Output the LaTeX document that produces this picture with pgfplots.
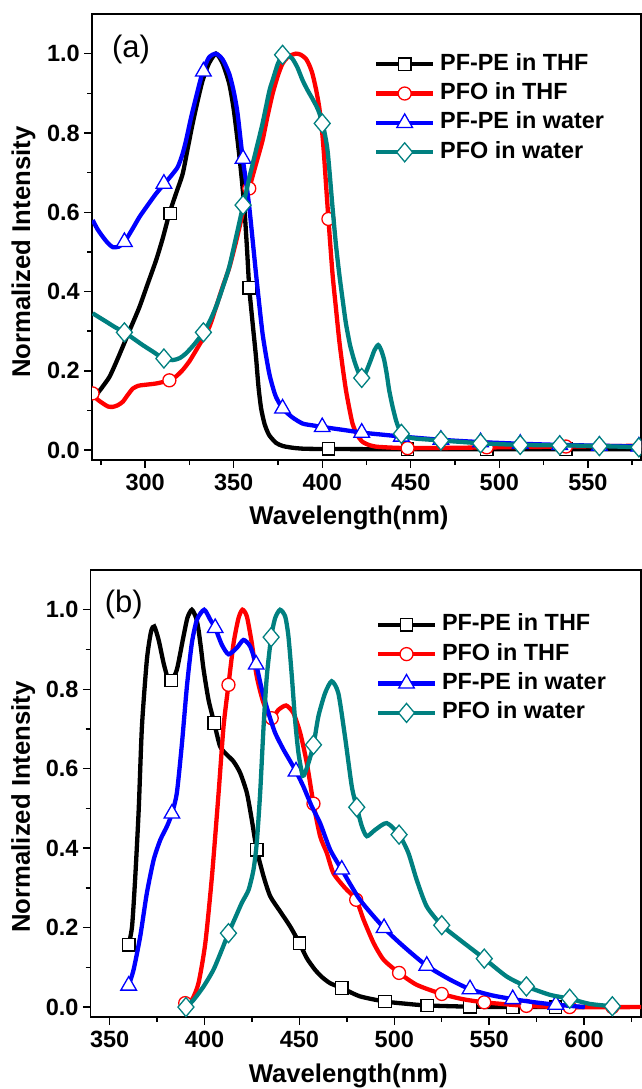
\documentclass[border=0pt]{standalone}
\usepackage{fontspec}
\setmainfont{Liberation Sans}
\usepackage{pgfplots}
\pgfplotsset{compat=1.18}
\definecolor{cteal}{RGB}{0,128,128}
\definecolor{cred}{RGB}{255,0,0}
\definecolor{cblue}{RGB}{0,0,255}
\pgfplotsset{
  base/.style={
    scale only axis,
    clip marker paths=true,
    axis line style={line width=1.5pt},
    every tick/.style={line width=1.4pt, black},
    tick align=outside,
    tick pos=left,
    major tick length=7.7pt,
    minor tick length=5pt,
    ymin=-0.025, ymax=1.1,
    ytick={0,0.2,0.4,0.6,0.8,1.0},
    minor ytick={0.1,0.3,0.5,0.7,0.9},
    yticklabel style={/pgf/number format/fixed,/pgf/number format/fixed zerofill,/pgf/number format/precision=1, xshift=-1pt},
    xticklabel style={yshift=-2.5pt},
    /pgf/number format/assume math mode=true,
    tick label style={font=\fontsize{23.5}{28}\selectfont\bfseries},
    label style={font=\fontsize{25.7}{30}\selectfont\bfseries},
    xlabel={Wavelength(nm)},
    ylabel={Normalized Intensity},
    xlabel style={at={(axis description cs:0.468,-0.1457)}, anchor=base},
    legend cell align=left,
    legend style={draw=none, fill=none, inner sep=0pt, outer sep=0pt, row sep=0pt, column sep=2pt,
        font=\fontsize{23.4}{28}\selectfont\bfseries,
        nodes={inner xsep=3pt, inner ysep=3.7pt, text height=17pt, text depth=5pt}},
  },
  crv/.style={line width=4.3pt, smooth, tension=0.4, forget plot},
  mk/.style={line width=4.3pt, only marks,
     legend image code/.code={\draw[mark repeat=2,mark phase=2,##1,sharp plot] plot coordinates {(0pt,0pt) (28.35pt,0pt) (56.7pt,0pt)};}},
  msq/.style={mark=square*, mark size=6.2pt, mark options={line width=1.3pt, fill=white, solid}},
  mci/.style={mark=*, mark size=6.5pt, mark options={line width=1.3pt, fill=white, solid}},
  mtr/.style={mark=triangle*, mark size=9pt, mark options={line width=1.3pt, fill=white, solid}},
  mdi/.style={mark=diamond*, mark size=9.5pt, mark options={line width=1.3pt, fill=white, solid, xscale=1.12}},
}
\begin{document}
\begin{tikzpicture}[x=1pt,y=1pt]
\useasboundingbox (0,0) rectangle (642,-1089);
% ---------------- panel (a) ----------------
\begin{axis}[base, at={(92pt,-14pt)}, anchor=north west, width=549pt, height=446pt,
  xmin=270, xmax=580, xtick={300,350,400,450,500,550}, minor xtick={275,325,375,425,475,525,575},
  ylabel style={at={(axis description cs:-0.1129,0.466)}, anchor=base},
  legend style={at={(0.514,0.9206)}, anchor=north west}]
% PF-PE in THF
\addplot[crv, black] coordinates {(270.5,0.13) (272.4,0.139) (276,0.16) (279.9,0.185) (283.5,0.22) (287.4,0.261) (292,0.31) (296.8,0.361) (301.5,0.42) (306.2,0.479) (310,0.535) (313.7,0.597) (317.5,0.648) (321.2,0.697) (324,0.76) (326.8,0.823) (329.6,0.88) (332.5,0.933) (336,0.975) (340,1.0) (343.8,0.975) (347.5,0.924) (350,0.86) (352.2,0.781) (354.2,0.70) (356,0.613) (357.5,0.51) (358.8,0.409) (360.7,0.32) (362.6,0.235) (364,0.16) (365.5,0.105) (367.5,0.065) (370,0.038) (374,0.018) (378,0.01) (385,0.005) (395,0.003) (450,0.002) (500,0.002) (580,0.002)};
\addplot[mk, msq, black] coordinates {(314.1,0.597) (358.8,0.409) (403.5,0.003) (448.2,0.002) (492.9,0.002) (537.6,0.002)};
\addlegendentry{PF-PE in THF}
% PFO in THF
\addplot[crv, cred] coordinates {(270.4,0.143) (273,0.128) (276.1,0.118) (279,0.11) (281.7,0.109) (284.5,0.113) (287.4,0.122) (290,0.138) (293,0.155) (296,0.162) (298.6,0.164) (306.2,0.168) (313.7,0.176) (317.5,0.186) (321.2,0.202) (325,0.224) (328.8,0.252) (332.5,0.28) (336.3,0.311) (340,0.36) (343.8,0.412) (347.5,0.46) (351.3,0.525) (355,0.595) (358.8,0.66) (362.5,0.72) (366.3,0.781) (369,0.84) (372,0.899) (375,0.945) (377.6,0.975) (381,0.993) (385.2,1.0) (388,0.997) (390.8,0.987) (392.8,0.97) (394.5,0.949) (396.5,0.91) (398.3,0.865) (400,0.80) (401.1,0.739) (402.3,0.66) (403.5,0.583) (405.8,0.445) (407.7,0.36) (409.6,0.277) (411.5,0.21) (413.4,0.151) (415.3,0.105) (417.1,0.067) (419.5,0.04) (422.7,0.021) (427,0.012) (432.1,0.008) (450,0.005) (500,0.007) (540,0.009) (580,0.011)};
\addplot[mk, mci, cred] coordinates {(270.3,0.143) (313.7,0.176) (358.8,0.66) (403.5,0.583) (448.2,0.005) (492.9,0.007) (537.6,0.009)};
\addlegendentry{PFO in THF}
% PF-PE in water
\addplot[crv, cblue] coordinates {(270.4,0.58) (273,0.558) (276.1,0.538) (279,0.522) (281.7,0.512) (285,0.513) (288.3,0.525) (292.5,0.555) (296.8,0.588) (301.5,0.618) (306.2,0.647) (310.9,0.672) (314.7,0.692) (318.4,0.714) (321,0.745) (323.1,0.781) (326,0.84) (328.8,0.891) (332.5,0.954) (336,0.99) (340,1.0) (343.8,0.985) (347.5,0.949) (350,0.905) (352.2,0.849) (355,0.739) (356.9,0.68) (358.8,0.613) (360.7,0.53) (362.6,0.445) (364.5,0.365) (366.3,0.294) (368.2,0.24) (370.1,0.193) (372,0.16) (373.9,0.134) (377.6,0.105) (383,0.083) (388.9,0.067) (395,0.062) (400.7,0.058) (411.7,0.051) (422.7,0.044) (433.8,0.039) (445.3,0.034) (467,0.026) (490,0.02) (512,0.016) (535,0.013) (557.6,0.011) (580,0.009)};
\addplot[mk, mtr, cblue] coordinates {(288.3,0.525) (310.6,0.672) (332.9,0.955) (355.3,0.735) (377.6,0.105) (400,0.058) (422.3,0.044) (444.7,0.034) (467,0.026) (489.4,0.02) (511.8,0.016) (534.1,0.013) (556.5,0.011) (578.8,0.009)};
\addlegendentry{PF-PE in water}
% PFO in water
\addplot[crv, cteal] coordinates {(270.4,0.345) (274,0.335) (278,0.324) (283,0.31) (288.3,0.297) (293.5,0.281) (298.6,0.265) (304.5,0.248) (310.3,0.231) (315.6,0.227) (319.5,0.232) (323.1,0.244) (328,0.268) (332.9,0.297) (336.5,0.325) (340,0.361) (343.8,0.41) (347.5,0.462) (351.5,0.54) (355.4,0.618) (359,0.69) (362.6,0.756) (366.3,0.824) (370.1,0.905) (372,0.933) (375,0.975) (377.8,0.997) (380.5,0.996) (383.2,0.987) (386,0.965) (388.9,0.933) (391.7,0.908) (394.5,0.886) (397.5,0.86) (400.2,0.824) (403,0.756) (405.8,0.613) (407.7,0.52) (409.6,0.445) (411.5,0.38) (413.4,0.319) (415.7,0.265) (418,0.227) (420.3,0.198) (422.7,0.182) (425,0.2) (427.4,0.227) (429.5,0.252) (431.6,0.265) (433.3,0.252) (435,0.227) (436.5,0.19) (437.8,0.151) (439.7,0.11) (441.6,0.076) (443.5,0.052) (445.3,0.04) (449,0.032) (452.8,0.029) (458.5,0.027) (467.8,0.024) (490.3,0.017) (512.4,0.013) (535,0.012) (557.6,0.01) (580,0.007)};
\addplot[mk, mdi, cteal] coordinates {(288.3,0.297) (310.6,0.231) (332.9,0.297) (355.3,0.618) (377.6,0.997) (400,0.824) (422.3,0.182) (444.7,0.041) (467,0.024) (489.4,0.017) (511.8,0.013) (534.1,0.012) (556.5,0.01) (578.8,0.007)};
\addlegendentry{PFO in water}
\node[font=\fontsize{31}{36}\selectfont] at (axis description cs:0.071,0.9215) {(a)};
\end{axis}
% ---------------- panel (b) ----------------
\begin{axis}[base, at={(90.7pt,-570pt)}, anchor=north west, width=550.3pt, height=447pt,
  xmin=340, xmax=630, xtick={350,400,450,500,550,600}, minor xtick={375,425,475,525,575,625},
  ylabel style={at={(axis description cs:-0.1103,0.47)}, anchor=base},
  legend style={at={(0.5185,0.9105)}, anchor=north west}]
% PF-PE in THF
\addplot[crv, black] coordinates {(360,0.157) (361.8,0.203) (363.5,0.329) (365.3,0.497) (367,0.706) (369.6,0.874) (371.8,0.945) (373.5,0.958) (375.8,0.924) (378.4,0.866) (380.5,0.83) (382.5,0.822) (385.4,0.849) (388.9,0.933) (391,0.98) (393.3,1.0) (395.5,0.98) (396.8,0.95) (398.2,0.9) (399.5,0.849) (402.1,0.773) (405.1,0.715) (408.2,0.656) (411.8,0.635) (415.3,0.618) (418.8,0.589) (422.3,0.539) (424.9,0.471) (427.5,0.396) (431.1,0.329) (434.6,0.279) (439.8,0.241) (445.1,0.203) (450,0.161) (453.9,0.123) (458.2,0.094) (462,0.075) (466.2,0.060) (472.3,0.048) (481.9,0.027) (495.1,0.014) (507,0.008) (517.4,0.004) (539.9,0.001) (562.7,0.0) (585.1,0.0) (600,0.0)};
\addplot[mk, msq, black] coordinates {(360,0.157) (382.5,0.822) (405.1,0.715) (427.5,0.396) (450,0.161) (472.3,0.048) (495.1,0.014) (517.4,0.004) (539.9,0.001) (562.5,0) (585,0)};
\addlegendentry{PF-PE in THF}
% PFO in THF
\addplot[crv, cred] coordinates {(389.8,0.01) (393.3,0.018) (396.8,0.06) (400.4,0.161) (403.9,0.329) (407.4,0.539) (410,0.706) (412.6,0.811) (415.3,0.916) (417.9,0.979) (420,1.0) (422.3,0.983) (424.9,0.916) (427.5,0.832) (431.1,0.765) (435.4,0.727) (438.9,0.748) (443,0.759) (446.8,0.74) (450.4,0.69) (453.9,0.614) (457.4,0.512) (460.9,0.43) (464.4,0.388) (467.9,0.337) (474,0.3) (479.9,0.27) (483.8,0.22) (489.1,0.161) (494.4,0.119) (502.5,0.086) (511.8,0.056) (525,0.033) (536,0.02) (547.4,0.012) (569.6,0.003) (592.4,0.0) (630,0.0)};
\addplot[mk, mci, cred] coordinates {(389.8,0.01) (412.6,0.811) (435.4,0.727) (457.4,0.512) (479.9,0.27) (502.5,0.086) (525,0.033) (547.4,0.012) (569.6,0.003) (592.4,0) (614.9,0)};
\addlegendentry{PFO in THF}
% PF-PE in water
\addplot[crv, cblue] coordinates {(360,0.054) (362.6,0.094) (366.1,0.178) (369.6,0.287) (373.2,0.371) (376.7,0.421) (380.2,0.455) (382.8,0.487) (385.4,0.539) (388.1,0.664) (390.7,0.807) (393.3,0.916) (396,0.975) (399.8,1.0) (403,0.975) (405.6,0.954) (409.1,0.912) (412.6,0.888) (417,0.904) (420.5,0.924) (424,0.908) (427.2,0.862) (430.2,0.799) (433.7,0.74) (437.2,0.69) (441.6,0.648) (445,0.62) (448.2,0.593) (452.1,0.555) (456.5,0.505) (460.9,0.463) (466.2,0.396) (472.3,0.346) (481.9,0.27) (494.6,0.199) (504.8,0.153) (517.1,0.104) (529.4,0.069) (539.9,0.045) (551,0.03) (562.4,0.02) (574,0.012) (585.1,0.006) (600.4,0.0)};
\addplot[mk, mtr, cblue] coordinates {(360,0.054) (382.8,0.487) (405.6,0.954) (427.2,0.862) (448.2,0.593) (472.3,0.346) (494.6,0.199) (517.1,0.104) (539.9,0.045) (562.4,0.02) (585.1,0.006)};
\addlegendentry{PF-PE in water}
% PFO in water
\addplot[crv, cteal] coordinates {(390.2,0.0) (394.2,0.018) (399.5,0.052) (404.7,0.094) (409.1,0.144) (412.6,0.186) (416.1,0.224) (419.6,0.262) (423.2,0.295) (425.8,0.346) (427.5,0.413) (429.3,0.539) (431.1,0.706) (432.8,0.832) (435.1,0.931) (437.2,0.979) (439.8,1.0) (442.5,0.983) (444.2,0.933) (446,0.832) (447.7,0.723) (449.5,0.639) (451.8,0.582) (454.2,0.606) (457.4,0.66) (460,0.732) (463.5,0.79) (467,0.82) (470.5,0.79) (474,0.681) (477.6,0.555) (480.2,0.503) (482.9,0.455) (485.5,0.43) (489.9,0.446) (496,0.463) (502.5,0.434) (507.4,0.388) (511.8,0.32) (517.1,0.253) (525,0.206) (534.6,0.169) (547.4,0.122) (559.2,0.077) (569.6,0.052) (581.9,0.031) (592.4,0.021) (603,0.008) (614.9,0.002) (618.8,0.0)};
\addplot[mk, mdi, cteal] coordinates {(390.2,0.0) (412.6,0.186) (435.1,0.931) (457.4,0.66) (480.2,0.503) (502.5,0.434) (525,0.206) (547.4,0.122) (569.6,0.052) (592.4,0.021) (614.9,0.002)};
\addlegendentry{PFO in water}
\node[font=\fontsize{31}{36}\selectfont] at (axis description cs:0.06,0.924) {(b)};
\end{axis}
\end{tikzpicture}
\end{document}
